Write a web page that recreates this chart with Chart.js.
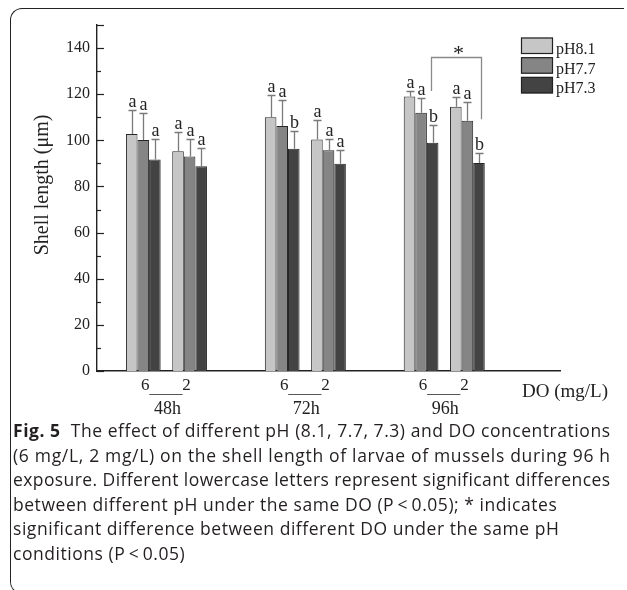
<!DOCTYPE html>
<html>
<head>
<meta charset="utf-8">
<script src="https://cdn.jsdelivr.net/npm/chart.js@4/dist/chart.umd.min.js"></script>
<style>
  html, body { margin: 0; padding: 0; background: #fff; overflow: hidden; }
  body { width: 627px; height: 590px; position: relative; }
  #frame { position: absolute; left: 10px; top: 8px; width: 614px; height: 586px;
    border-top: 1.5px solid #222; border-left: 1.5px solid #222; border-bottom: 1.5px solid #222;
    border-top-left-radius: 12px; border-bottom-left-radius: 12px; box-sizing: border-box; }
  #chart { position: absolute; left: 0; top: 0; }
  #caption { position: absolute; left: 13px; top: 418px; font-family: "Open Sans", "Noto Sans", sans-serif;
    font-size: 17.5px; line-height: 24.5px; color: #231f20; white-space: nowrap; }
  #caption .ln { display: block; width: max-content; }
  #caption b { font-weight: 700; }
</style>
</head>
<body>
<div id="frame"></div>
<canvas id="chart" width="627" height="420"></canvas>
<div id="caption">
  <div class="ln"><b>Fig. 5</b>&nbsp; The effect of different pH (8.1, 7.7, 7.3) and DO concentrations</div>
  <div class="ln">(6 mg/L, 2 mg/L) on the shell length of larvae of mussels during 96 h</div>
  <div class="ln">exposure. Different lowercase letters represent significant differences</div>
  <div class="ln">between different pH under the same DO (P&thinsp;&lt;&thinsp;0.05); * indicates</div>
  <div class="ln">significant difference between different DO under the same pH</div>
  <div class="ln">conditions (P&thinsp;&lt;&thinsp;0.05)</div>
</div>
<script>
// ---- data ----
const categories = ['', '6', '2', '', '6', '2', '', '6', '2', '', ''];
const timeLabels = ['48h', '72h', '96h'];
const seriesNames = ['pH8.1', 'pH7.7', 'pH7.3'];
const ph81 = [null, 102.7, 95.3, null, 110.0, 100.4, null, 119.0, 114.6, null, null];
const ph77 = [null, 100.1, 93.0, null, 106.2, 95.7, null, 112.0, 108.5, null, null];
const ph73 = [null, 91.7, 88.8, null, 96.3, 89.9, null, 98.9, 90.2, null, null];
const sd81 = [null, 10.3, 8.4, null, 9.5, 8.4, null, 2.3, 4.2, null, null];
const sd77 = [null, 11.6, 7.7, null, 11.3, 4.7, null, 6.5, 8.1, null, null];
const sd73 = [null, 8.7, 8.0, null, 7.6, 6.1, null, 7.6, 4.4, null, null];
const let81 = [null, 'a', 'a', null, 'a', 'a', null, 'a', 'a', null, null];
const let77 = [null, 'a', 'a', null, 'a', 'a', null, 'a', 'a', null, null];
const let73 = [null, 'a', 'a', null, 'b', 'a', null, 'b', 'b', null, null];
const yTicks = [0, 20, 40, 60, 80, 100, 120, 140];
// significance bracket (96h, pH7.3: 6 vs 2 mg/L)
const bracketTop = 136;
const bracketLeftBottom = 121.4;
const bracketRightBottom = 109.1;
const yTitle = 'Shell length (\u03bcm)';
const xTitle = 'DO (mg/L)';

const fills = ['#c6c6c6', '#858585', '#434343'];
const sds = [sd81, sd77, sd73];
const letters = [let81, let77, let73];
const SERIF = '"Liberation Serif", "DejaVu Serif", serif';

const overlay = {
  id: 'overlay',
  afterDraw(chart) {
    const { ctx, chartArea: ca, scales: { x, y } } = chart;
    ctx.save();
    // inward y ticks
    ctx.strokeStyle = '#222';
    ctx.lineWidth = 1.2;
    for (let v = 0; v <= 150; v += 10) {
      const py = Math.round(y.getPixelForValue(v)) + 0.5;
      const len = (v % 20 === 0 || v === 150) ? 7 : 4;
      ctx.beginPath(); ctx.moveTo(ca.left, py); ctx.lineTo(ca.left + len, py); ctx.stroke();
    }
    // error bars + letters
    chart.data.datasets.forEach((ds, di) => {
      const meta = chart.getDatasetMeta(di);
      meta.data.forEach((bar, i) => {
        const m = ds.data[i];
        if (m == null) return;
        const e = sds[di][i];
        const cx = Math.round(bar.x) + 0.5;
        const pt = y.getPixelForValue(m);
        const pe = Math.round(y.getPixelForValue(m + e)) + 0.5;
        ctx.strokeStyle = '#7a7a7a';
        ctx.lineWidth = 1.3;
        ctx.beginPath(); ctx.moveTo(cx, pt); ctx.lineTo(cx, pe);
        ctx.moveTo(cx - 4, pe); ctx.lineTo(cx + 4, pe); ctx.stroke();
        ctx.fillStyle = '#222';
        ctx.font = '18px ' + SERIF;
        ctx.textAlign = 'center';
        ctx.textBaseline = 'alphabetic';
        ctx.fillText(letters[di][i], cx, pe - 4);
      });
    });
    // bracket
    const m73 = chart.getDatasetMeta(2);
    const bx1 = Math.round(m73.data[7].x) - 1.5, bx2 = Math.round(m73.data[8].x) + 2.5;
    const byT = Math.round(y.getPixelForValue(bracketTop)) + 0.5;
    ctx.strokeStyle = '#8a8a8a';
    ctx.lineWidth = 1.3;
    ctx.beginPath();
    ctx.moveTo(bx1, y.getPixelForValue(bracketLeftBottom));
    ctx.lineTo(bx1, byT); ctx.lineTo(bx2, byT);
    ctx.lineTo(bx2, y.getPixelForValue(bracketRightBottom));
    ctx.stroke();
    ctx.fillStyle = '#222';
    ctx.font = '22px ' + SERIF;
    ctx.textAlign = 'center';
    ctx.fillText('*', (bx1 + bx2) / 2 + 2, byT + 2);
    // x labels: DO under each cluster, time under pairs
    ctx.font = '17px ' + SERIF;
    ctx.textBaseline = 'middle';
    const base = ca.bottom;
    for (let g = 0; g < timeLabels.length; g++) {
      const i6 = 1 + g * 3, i2 = 2 + g * 3;
      const x6 = x.getPixelForValue(i6), x2 = x.getPixelForValue(i2);
      ctx.fillStyle = '#222';
      ctx.fillText(categories[i6], x6 + 2, base + 15);
      ctx.fillText(categories[i2], x2 - 3, base + 15);
      ctx.strokeStyle = '#555';
      ctx.lineWidth = 1;
      ctx.beginPath(); ctx.moveTo(x6 + 6, base + 23.5); ctx.lineTo(x2 - 7, base + 23.5); ctx.stroke();
      ctx.font = '18px ' + SERIF;
      ctx.fillText(timeLabels[g], (x6 + x2) / 2 + 1, base + 38);
      ctx.font = '17px ' + SERIF;
    }
    ctx.font = '19px ' + SERIF;
    ctx.textAlign = 'left';
    ctx.fillText(xTitle, ca.right - 38, base + 21);
    // y title
    ctx.save();
    ctx.translate(43, 185);
    ctx.rotate(-Math.PI / 2);
    ctx.textAlign = 'center';
    ctx.font = '20px ' + SERIF;
    ctx.fillText(yTitle, 0, 0);
    ctx.restore();
    // legend
    const lx = ca.right - 39, ly = 37.5;
    chart.data.datasets.forEach((ds, di) => {
      const top = ly + di * 19.7;
      ctx.fillStyle = ds.backgroundColor;
      ctx.fillRect(lx, top, 32, 16.5);
      ctx.strokeStyle = '#222';
      ctx.lineWidth = 1.2;
      ctx.strokeRect(lx + 0.5, top + 0.5, 31, 15.5);
      ctx.fillStyle = '#222';
      ctx.font = '16px ' + SERIF;
      ctx.textAlign = 'left';
      ctx.textBaseline = 'alphabetic';
      ctx.fillText(ds.label, lx + 35, top + 16.5);
    });
    ctx.restore();
  }
};

new Chart(document.getElementById('chart'), {
  type: 'bar',
  data: {
    labels: categories,
    datasets: [ph81, ph77, ph73].map((d, i) => ({
      label: seriesNames[i],
      data: d,
      backgroundColor: fills[i],
      borderColor: '#262626',
      borderWidth: 1,
      borderSkipped: 'bottom'
    }))
  },
  options: {
    responsive: false,
    animation: false,
    events: [],
    layout: { padding: { top: 25, right: 67, left: 0, bottom: 0 } },
    categoryPercentage: 0.75,
    barPercentage: 1.0,
    plugins: { legend: { display: false }, tooltip: { enabled: false } },
    scales: {
      x: {
        type: 'category',
        offset: false,
        grid: { display: false, drawTicks: false },
        border: { display: true, color: '#222', width: 1.6 },
        ticks: { display: false },
        afterFit(s) { s.height = 49; }
      },
      y: {
        min: 0, max: 150,
        afterBuildTicks(s) { s.ticks = yTicks.map(v => ({ value: v })); },
        grid: { display: false, drawTicks: false },
        border: { display: true, color: '#222', width: 1.4 },
        ticks: { color: '#222', padding: 7, font: { family: SERIF, size: 16 } },
        afterFit(s) { s.width = 97; }
      }
    }
  },
  plugins: [overlay]
});

// fit caption lines: first three lines span the full column, the rest use the mean spacing
(function () {
  const lines = document.querySelectorAll('#caption .ln');
  const target = 597;
  let sum = 0;
  for (let k = 0; k < 3; k++) {
    const l = lines[k];
    const w = l.getBoundingClientRect().width;
    const n = l.textContent.length - 1;
    const ls = (target - w) / n;
    sum += ls;
    l.style.letterSpacing = ls.toFixed(3) + 'px';
  }
  const avg = sum / 3;
  for (let k = 3; k < lines.length; k++) lines[k].style.letterSpacing = avg.toFixed(3) + 'px';
})();
</script>
</body>
</html>
